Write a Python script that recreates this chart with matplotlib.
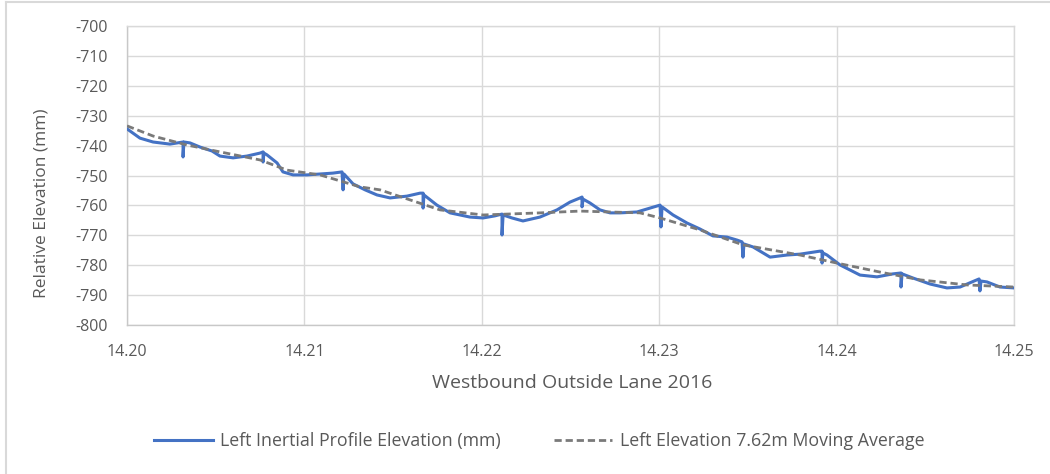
import matplotlib
matplotlib.use("Agg")
import matplotlib.pyplot as plt
from matplotlib.lines import Line2D

# Left wheel-path inertial profile, Westbound outside lane (2016)
station_km = [
    14.20000, 14.20073, 14.20147, 14.20242, 14.20316, 14.20316, 14.20321, 14.20355,
    14.20412, 14.20479, 14.20524, 14.20598, 14.20676, 14.20750, 14.20767, 14.20767,
    14.20772, 14.20789, 14.20846, 14.20879, 14.20936, 14.21015, 14.21088, 14.21161,
    14.21212, 14.21218, 14.21223, 14.21274, 14.21342, 14.21409, 14.21483, 14.21578,
    14.21652, 14.21669, 14.21669, 14.21674, 14.21747, 14.21821, 14.21933, 14.22007,
    14.22074, 14.22114, 14.22114, 14.22120, 14.22170, 14.22232, 14.22328, 14.22424,
    14.22497, 14.22554, 14.22565, 14.22565, 14.22571, 14.22610, 14.22666, 14.22723,
    14.22779, 14.22875, 14.22948, 14.23005, 14.23010, 14.23016, 14.23078, 14.23157,
    14.23230, 14.23303, 14.23382, 14.23439, 14.23467, 14.23472, 14.23478, 14.23529,
    14.23625, 14.23720, 14.23794, 14.23906, 14.23918, 14.23918, 14.23923, 14.23946,
    14.24019, 14.24132, 14.24228, 14.24318, 14.24363, 14.24363, 14.24369, 14.24431,
    14.24527, 14.24622, 14.24696, 14.24763, 14.24803, 14.24808, 14.24814, 14.24848,
    14.24921, 14.25000,
]
elevation_mm = [
    -734.4, -737.5, -738.8, -739.5, -738.8, -743.8, -738.8, -739.1,
    -740.5, -741.8, -743.5, -744.1, -743.5, -742.5, -742.1, -745.5,
    -742.5, -743.1, -745.8, -748.8, -749.8, -749.8, -749.5, -749.2,
    -748.8, -754.8, -749.5, -752.8, -754.8, -756.5, -757.5, -756.9,
    -755.9, -755.9, -760.9, -756.5, -759.9, -762.5, -763.9, -764.2,
    -763.5, -762.9, -769.9, -763.2, -764.2, -765.2, -763.9, -761.5,
    -758.9, -757.5, -757.2, -760.5, -757.9, -759.2, -761.5, -762.5,
    -762.5, -762.2, -760.9, -759.9, -767.2, -760.5, -763.2, -765.9,
    -767.9, -770.2, -770.6, -771.6, -772.2, -777.3, -772.9, -773.9,
    -777.3, -776.6, -776.3, -775.3, -775.3, -779.3, -775.9, -776.6,
    -779.9, -783.3, -783.9, -782.9, -782.6, -787.3, -782.9, -784.3,
    -786.3, -787.6, -787.3, -785.6, -784.6, -788.6, -785.3, -785.6,
    -787.3, -787.6,
]

# 7.62 m moving average of the same profile
avg_station_km = [
    14.20000, 14.20147, 14.20338, 14.20524, 14.20750, 14.20902, 14.21088, 14.21313,
    14.21426, 14.21764, 14.22007, 14.22328, 14.22554, 14.22892, 14.23005, 14.23230,
    14.23472, 14.23794, 14.24002, 14.24245, 14.24470, 14.24735, 14.25000,
]
avg_elevation_mm = [
    -733.4, -736.8, -739.8, -742.1, -744.8, -748.2, -749.8, -753.8,
    -754.8, -761.5, -763.2, -762.5, -761.9, -762.5, -764.2, -768.2,
    -773.2, -776.6, -779.3, -782.3, -784.9, -786.6, -787.3,
]

x_ticks = [14.20, 14.21, 14.22, 14.23, 14.24, 14.25]
y_ticks = list(range(-800, -699, 10))

series_labels = ["Left Inertial Profile Elevation (mm)",
                 "Left Elevation 7.62m Moving Average"]

TEXT = "#595959"
GRID = "#d9d9d9"
plt.rcParams["font.family"] = ["Open Sans", "DejaVu Sans"]

W, H = 1050, 474
fig = plt.figure(figsize=(W / 100, H / 100), dpi=100)
fig.patch.set_facecolor("white")

# chart-area border (top and left edges)
fig.add_artist(Line2D([6 / W, 1.0], [1 - 2 / H, 1 - 2 / H], color=GRID, lw=1.5))
fig.add_artist(Line2D([6 / W, 6 / W], [0, 1 - 2 / H], color=GRID, lw=1.5))

ax = fig.add_axes([127 / W, 1 - 325 / H, 887 / W, 299 / H])
ax.plot(station_km, elevation_mm, color="#4472C4", lw=2.2,
        solid_joinstyle="round", label=series_labels[0], zorder=3)
ax.plot(avg_station_km, avg_elevation_mm, color="#7a7a7a", lw=2.0,
        linestyle=(0, (2.6, 1.4)), label=series_labels[1], zorder=4)

ax.set_xlim(14.20, 14.25)
ax.set_ylim(-800, -700)
ax.set_xticks(x_ticks)
ax.set_xticklabels([f"{v:.2f}" for v in x_ticks])
ax.set_yticks(y_ticks)
ax.set_yticklabels([str(v) for v in y_ticks])
ax.grid(True, color=GRID, lw=1.0)
ax.set_axisbelow(True)
for s in ax.spines.values():
    s.set_color(GRID)
    s.set_linewidth(1.0)
ax.spines["left"].set_color("#c8c8c8")
ax.spines["bottom"].set_color("#c8c8c8")
ax.tick_params(length=0, labelsize=11.5, colors=TEXT)
ax.tick_params(axis="x", pad=14)
ax.tick_params(axis="y", pad=14)

fig.text(572 / W, 1 - 383 / H, "Westbound Outside Lane 2016",
         ha="center", va="center", fontsize=14, color=TEXT)
fig.text(42 / W, 1 - 203 / H, "Relative Elevation (mm)", rotation=90,
         ha="center", va="center", fontsize=12.5, color=TEXT)

handles, labels = ax.get_legend_handles_labels()
leg = fig.legend(handles, labels, loc="center", bbox_to_anchor=(539 / W, 1 - 441 / H),
                 ncol=2, frameon=False, fontsize=12.8, handlelength=3.3,
                 handletextpad=0.4, columnspacing=3.0)
for t in leg.get_texts():
    t.set_color(TEXT)

fig.savefig("out.png", dpi=100)
